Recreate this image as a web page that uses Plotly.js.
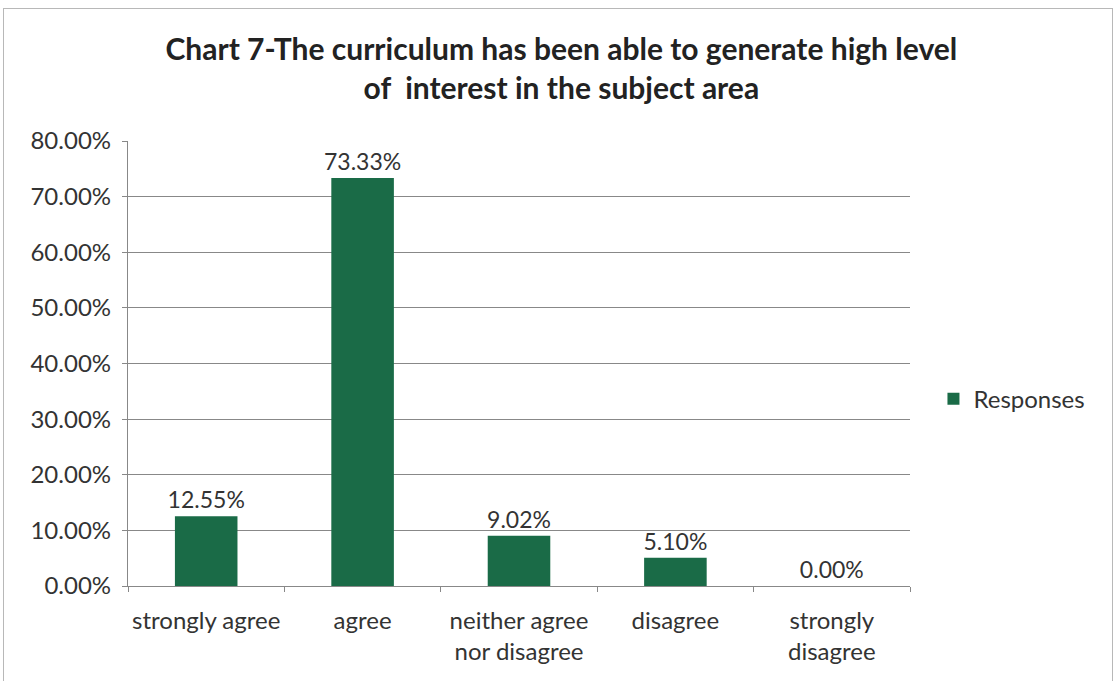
<!DOCTYPE html>
<html>
<head>
<meta charset="utf-8">
<script src="https://cdn.plot.ly/plotly-3.0.1.min.js"></script>
<style>
html,body{margin:0;padding:0;background:#fff;}
#wrap{position:relative;width:1116px;height:681px;}
#chart{width:1116px;height:681px;}
#frame{position:absolute;left:3px;top:8px;width:1108px;height:680px;border:1px solid #b8b8b8;pointer-events:none;}
</style>
</head>
<body>
<div id="wrap"><div id="chart"></div><div id="frame"></div></div>
<script>
const categories = ["strongly agree", "agree", "neither agree<br>nor disagree", "disagree", "strongly<br>disagree"];
const responses = [0.1255, 0.7333, 0.0902, 0.0510, 0.0000];
const seriesName = "Responses";
const titleText = "Chart 7-The curriculum has been able to generate high level<br>of  interest in the subject area";
const font = "Lato, 'Open Sans', sans-serif";

const trace = {
  type: "bar",
  x: categories,
  y: responses,
  name: seriesName,
  marker: {color: "#1a6b47"},
  text: responses.map(v => (v*100).toFixed(2) + "%"),
  textposition: "outside",
  constraintext: "none",
  cliponaxis: false,
  textfont: {size: 23, color: "#333", family: font},
  hoverinfo: "skip"
};

const layout = {
  width: 1116, height: 681,
  margin: {l: 128, r: 206, t: 141, b: 95},
  paper_bgcolor: "#fff", plot_bgcolor: "#fff",
  font: {family: font, color: "#333", size: 23},
  title: {text: titleText, font: {size: 30, family: font, weight: "bold", color: "#222"},
          x: 0.503, xref: "container", xanchor: "center", y: 0.912, yanchor: "top", yref: "container"},
  showlegend: true,
  legend: {x: 1.03, xanchor: "left", y: 0.42, yanchor: "middle", font: {size: 24, family: font, color: "#333"},
           itemwidth: 30, tracegroupgap: 0},
  bargap: 0.6,
  xaxis: {type: "category", showline: true, linecolor: "#888", linewidth: 1,
          ticks: "outside", tickson: "boundaries", ticklen: 5, tickcolor: "#888", tickangle: 0,
          tickfont: {size: 24, color: "#333"}, showgrid: false, ticklabelstandoff: 13},
  yaxis: {range: [0, 0.8], dtick: 0.1, tickformat: ".2%", showline: true, linecolor: "#888",
          ticks: "outside", ticklen: 5, tickcolor: "#888", gridcolor: "#888", gridwidth: 1,
          tickfont: {size: 24, color: "#333"}, zeroline: false, ticksuffix: " "}
};

Plotly.newPlot("chart", [trace], layout, {displayModeBar: false, staticPlot: true});
</script>
</body>
</html>
